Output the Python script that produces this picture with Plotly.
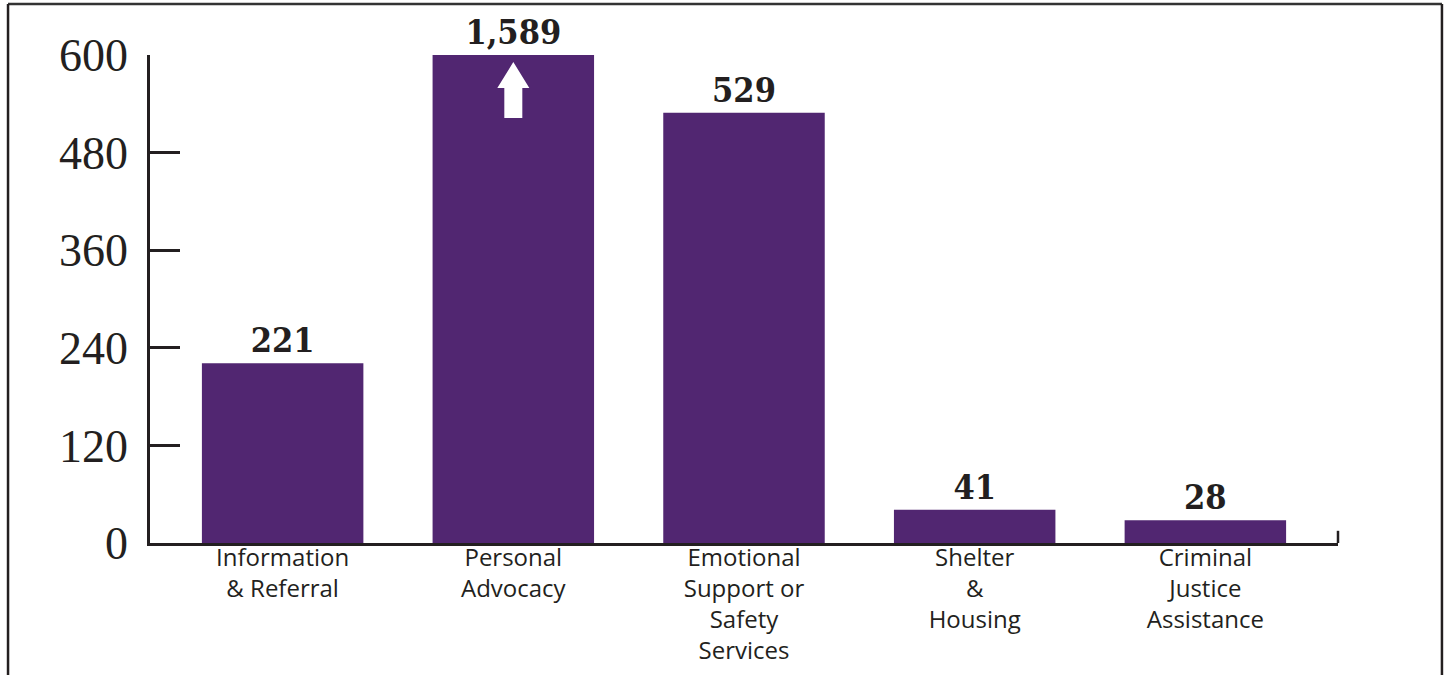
import plotly.graph_objects as go

categories = ["Information<br>& Referral", "Personal<br>Advocacy",
              "Emotional<br>Support or<br>Safety<br>Services",
              "Shelter<br>&<br>Housing", "Criminal<br>Justice<br>Assistance"]
values = [221, 1589, 529, 41, 28]
axis_cap = 600
y_ticks = [0, 120, 240, 360, 480, 600]

bar_color = "#512671"
ink = "#231f20"

W, H = 1447, 675
M = dict(l=150, r=109, t=55, b=132)
x_range = [-0.575, len(categories) - 1 + 0.575]

shown = [min(v, axis_cap) for v in values]
labels = [f"{v:,}" for v in values]

fig = go.Figure()
fig.add_trace(go.Bar(
    x=list(range(len(categories))), y=shown, width=0.70,
    marker=dict(color=bar_color, line=dict(width=0)),
    text=labels, textposition="outside", cliponaxis=False,
    textfont=dict(family="DejaVu Serif Condensed, DejaVu Serif, serif", size=34, color=ink, weight="bold"),
    hoverinfo="skip",
))

# white "continues upward" arrow inside any capped bar (sizes in pixels, converted to data units)
px_x = (x_range[1] - x_range[0]) / (W - M["l"] - M["r"])
px_y = axis_cap / (H - M["t"] - M["b"])
shapes = []
for i, v in enumerate(values):
    if v > axis_cap:
        tip = axis_cap - 7 * px_y
        head_base = tip - 26 * px_y
        tail = tip - 56 * px_y
        hw, sw = 16 * px_x, 9 * px_x
        path = (f"M {i - sw},{tail} L {i + sw},{tail} L {i + sw},{head_base} "
                f"L {i + hw},{head_base} L {i},{tip} L {i - hw},{head_base} "
                f"L {i - sw},{head_base} Z")
        shapes.append(dict(type="path", xref="x", yref="y", path=path,
                           fillcolor="white", line=dict(width=0)))

shapes += [
    dict(type="line", xref="paper", yref="y", x0=1, x1=1, y0=0, y1=15,
         line=dict(color=ink, width=2.5)),
    dict(type="line", xref="paper", yref="paper", x0=-0.1195, x1=1.0875, y0=1.1045, y1=1.1045,
         line=dict(color="#333333", width=2.5)),
    dict(type="line", xref="paper", yref="paper", x0=-0.1195, x1=-0.1195, y0=1.1045, y1=-0.3,
         line=dict(color=ink, width=2.5)),
    dict(type="line", xref="paper", yref="paper", x0=1.0875, x1=1.0875, y0=1.1045, y1=-0.3,
         line=dict(color=ink, width=2.5)),
]

fig.update_layout(
    width=W, height=H,
    margin=M,
    paper_bgcolor="white", plot_bgcolor="white",
    showlegend=False,
    xaxis=dict(range=x_range, tickmode="array", automargin=False,
               tickvals=list(range(len(categories))), ticktext=categories,
               showline=True, linecolor=ink, linewidth=3, ticks="", showgrid=False,
               zeroline=False, ticklabelstandoff=-9,
               tickfont=dict(family="Open Sans, sans-serif", size=24, color=ink)),
    yaxis=dict(range=[0, axis_cap], tickvals=y_ticks, showline=True, linecolor=ink,
               automargin=False,
               linewidth=2.5, ticks="inside", ticklen=30, tickwidth=2.5, tickcolor=ink,
               showgrid=False, zeroline=False, ticklabelstandoff=10,
               tickfont=dict(family="Liberation Serif, serif", size=46, color=ink)),
    shapes=shapes,
)

fig.write_html("out.html", config={"displayModeBar": False},
               post_script="document.body.style.margin='0';")
